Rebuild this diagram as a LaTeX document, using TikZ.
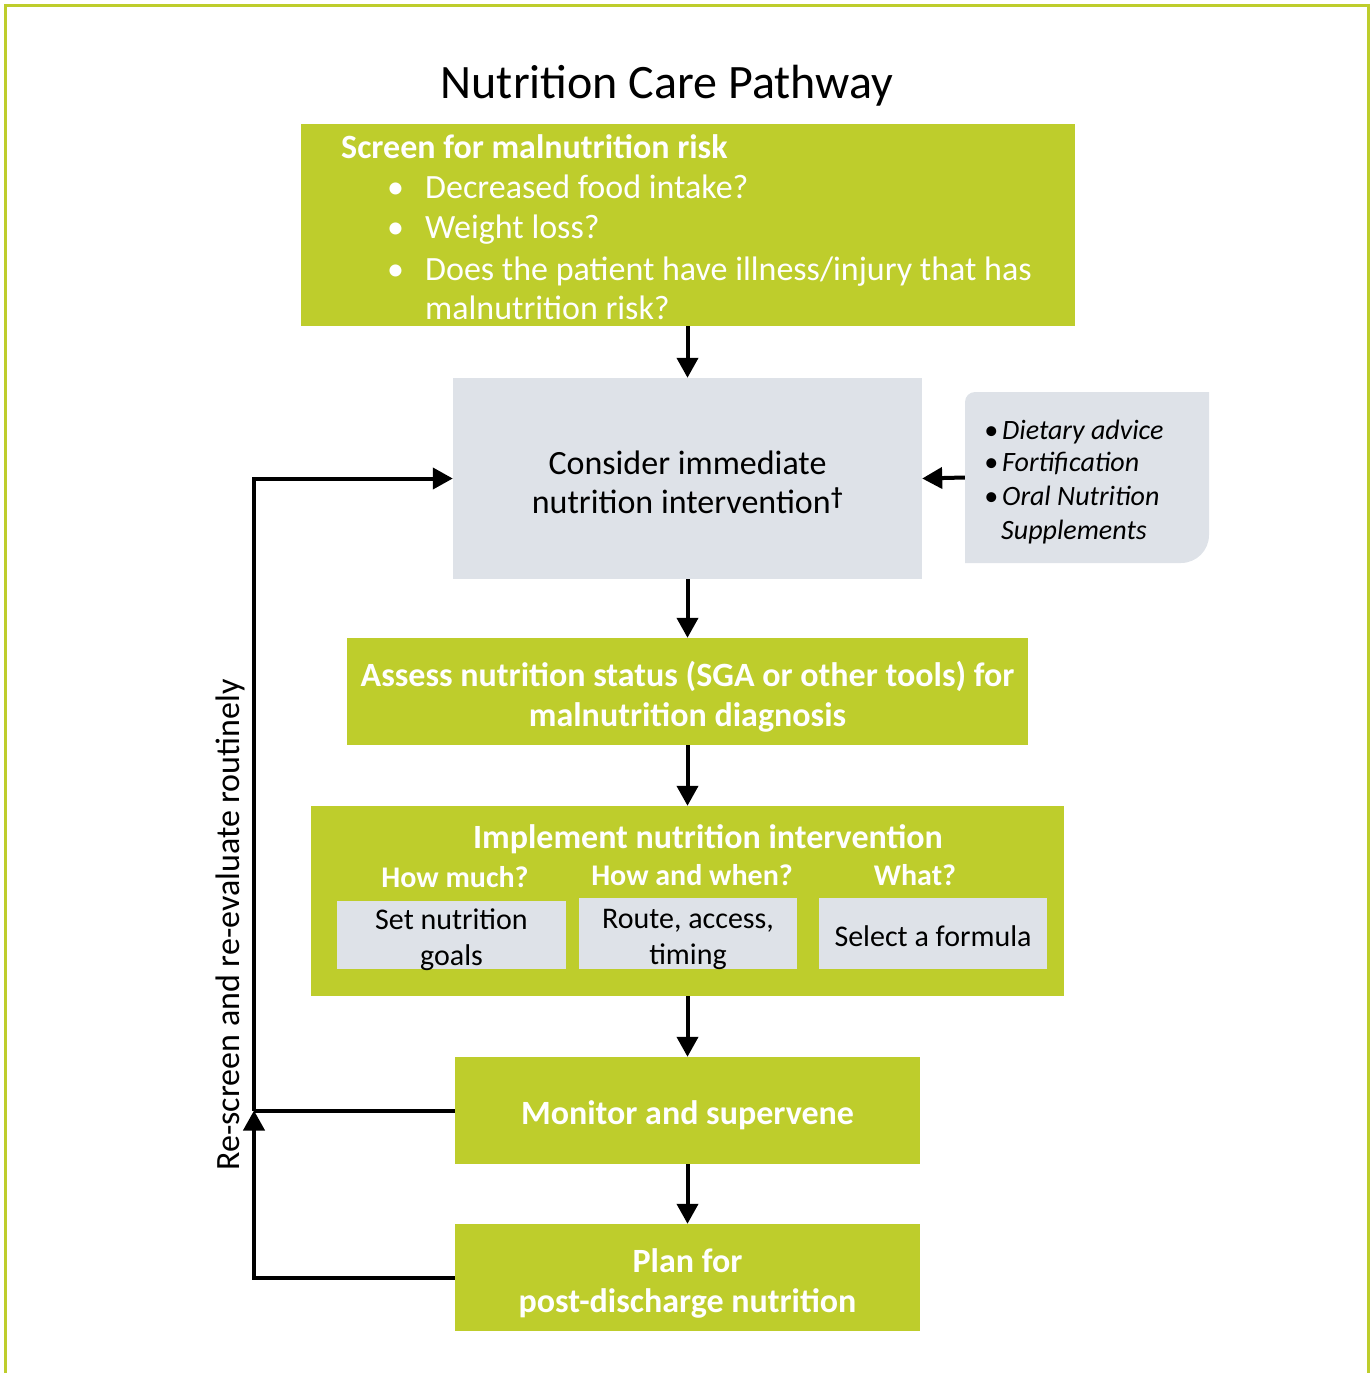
\documentclass[tikz,border=0pt]{standalone}
\usepackage{fontspec}
\setmainfont{Carlito}
\usetikzlibrary{arrows.meta}
\definecolor{lime}{RGB}{190,205,44}
\definecolor{paleg}{RGB}{222,226,232}
\begin{document}
\begin{tikzpicture}[x=1pt,y=-1pt,
  gbox/.style={fill=lime, inner sep=0pt},
  pbox/.style={fill=paleg, inner sep=0pt},
  gtxt/.style={text=white, align=center, inner sep=0pt, font=\fontsize{34}{40}\selectfont\bfseries},
  ptxt/.style={text=black, align=center, inner sep=0pt, font=\fontsize{30}{36}\selectfont},
  wtxt/.style={text=white, inner sep=0pt, font=\fontsize{34}{40}\selectfont},
  stxt/.style={text=black, inner sep=0pt, font=\fontsize{28}{33}\selectfont\itshape, anchor=base west},
  arr/.style={line width=4pt, -{Triangle[length=20pt,width=21pt]}},
  lnk/.style={line width=4pt}
]
\useasboundingbox (0,0) rectangle (1370,1373);
% frame
\draw[lime, line width=3pt] (5,1373) -- (5,5) -- (1368,5) -- (1368,1373);
% title
\node[font=\fontsize{48}{54}\selectfont, inner sep=0pt] (title) at (667,86) {Nutrition Care Pathway};
% box 1
\node[gbox, minimum width=774pt, minimum height=202pt] (screen) at (688,225) {};
\node[wtxt, anchor=base west, font=\fontsize{34}{40}\selectfont\bfseries] (screenhead) at (341,158) {Screen for malnutrition risk};
\node[wtxt, anchor=base west] (s1) at (387,198) {\makebox[38pt][l]{•}Decreased food intake?};
\node[wtxt, anchor=base west] (s2) at (387,238) {\makebox[38pt][l]{•}Weight loss?};
\node[wtxt, anchor=base west] (s3) at (387,280) {\makebox[38pt][l]{•}Does the patient have illness/injury that has};
\node[wtxt, anchor=base west] (s4) at (425,319) {malnutrition risk?};
% box 2
\node[pbox, minimum width=469pt, minimum height=201pt] (consider) at (687.5,478.5) {};
\node[ptxt, font=\fontsize{34}{39}\selectfont] (considertxt) at ([yshift=-4pt]consider.center) {Consider immediate\\nutrition intervention\textsuperscript{\bfseries †}};
% side box
\node[minimum width=244pt, minimum height=171pt, inner sep=0pt] (side) at (1087,477.5) {};
\fill[paleg] (975,392) -- (1209,392) -- (1209,535) arc(0:90:28) -- (965,563) -- (965,402) arc(180:270:10) -- cycle;
\node[stxt] (d1) at (984,439) {\makebox[18pt][l]{•}Dietary advice};
\node[stxt] (d2) at (984,471) {\makebox[18pt][l]{•}Fortification};
\node[stxt] (d3) at (984,505) {\makebox[18pt][l]{•}Oral Nutrition};
\node[stxt] (d4) at (1001,539) {Supplements};
% box 3
\node[gbox, minimum width=681pt, minimum height=107pt] (assess) at (687.5,691.5) {};
\node[gtxt] (assesstxt) at ([yshift=-5pt]assess.center) {Assess nutrition status (SGA or other tools) for\\malnutrition diagnosis};
% box 4
\node[gbox, minimum width=753pt, minimum height=190pt] (impl) at (687.5,901) {};
\node[gtxt] (implhead) at (708,839) {Implement nutrition intervention};
\node[gtxt, font=\fontsize{30}{36}\selectfont\bfseries] (q1) at (455,877) {How much?};
\node[gtxt, font=\fontsize{30}{36}\selectfont\bfseries] (q2) at (692,875) {How and when?};
\node[gtxt, font=\fontsize{30}{36}\selectfont\bfseries] (q3) at (915,875) {What?};
\node[pbox, minimum width=229pt, minimum height=68pt] (goals) at (451.5,935) {};
\node[ptxt] (goalstxt) at ([yshift=-5pt]goals.center) {Set nutrition\\goals};
\node[pbox, minimum width=218pt, minimum height=71pt] (route) at (688,933.5) {};
\node[ptxt] (routetxt) at ([yshift=-6pt]route.center) {Route, access,\\timing};
\node[pbox, minimum width=228pt, minimum height=71pt] (formula) at (933,933.5) {};
\node[ptxt] (formulatxt) at ([yshift=-3pt]formula.center) {Select a formula};
% box 5, 6
\node[gbox, minimum width=465pt, minimum height=107pt] (monitor) at (687.5,1110.5) {};
\node[gtxt] (monitortxt) at ([yshift=-5pt]monitor.center) {Monitor and supervene};
\node[gbox, minimum width=465pt, minimum height=107pt] (plan) at (687.5,1277.5) {};
\node[gtxt] (plantxt) at ([yshift=-6pt]plan.center) {Plan for\\post-discharge nutrition};
% arrows
\draw[arr] (screen.south -| consider.north) -- (consider.north);
\draw[arr] (side.west) -- (consider.east);
\draw[arr] (consider.south) -- (assess.north);
\draw[arr] (assess.south) -- (assess.south |- impl.north);
\draw[arr] (impl.south -| monitor.north) -- (monitor.north);
\draw[arr] (monitor.south) -- (plan.north);
% loop
\coordinate (j) at (254,1110.5);
\draw[lnk] (monitor.west) -- (j);
\draw[arr] (j) |- (consider.west);
\draw[arr] (plan.west) -| (j);
\node[rotate=90, inner sep=0pt, font=\fontsize{34}{40}\selectfont] (looplabel) at (230,925) {Re-screen and re-evaluate routinely};
\end{tikzpicture}
\end{document}
